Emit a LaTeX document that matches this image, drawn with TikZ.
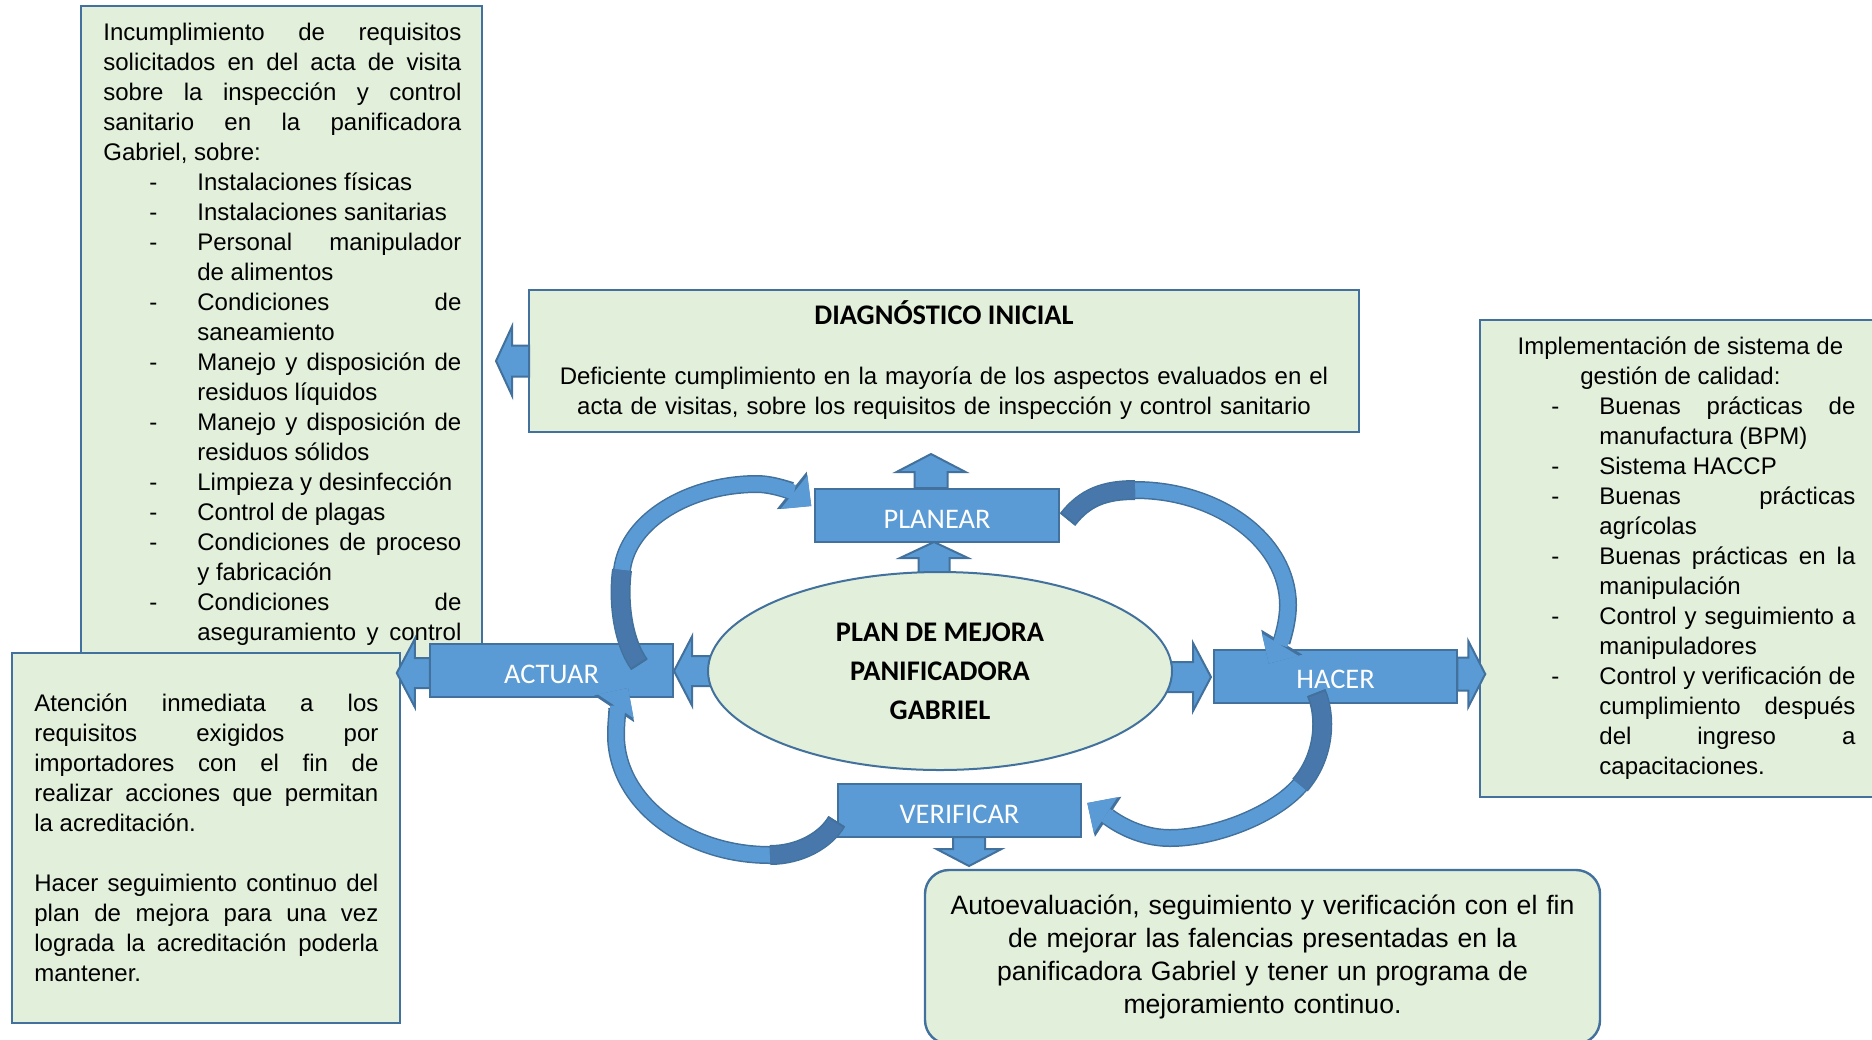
\documentclass[tikz,border=0pt]{standalone}
\usepackage{fontspec}
\setmainfont{Liberation Sans}
\newfontfamily\calibri{Carlito}
\usetikzlibrary{shapes.geometric,arrows.meta,calc}
\definecolor{boxgreen}{HTML}{E2EFDA}
\definecolor{boxblue}{HTML}{5B9BD5}
\definecolor{bordc}{HTML}{41719C}
\definecolor{darkblue}{HTML}{4878AB}
\hyphenpenalty=10000
\exhyphenpenalty=10000
\tolerance=10000
\newcommand{\dashitem}[1]{{\leftskip=47pt\noindent\llap{-\hspace{20pt}}#1\par}}
\begin{document}
\begin{tikzpicture}[x=0.5pt, y=-0.5pt,
    greenbox/.style={draw=bordc, fill=boxgreen, line width=1.2pt, inner sep=0pt, outer sep=0pt},
    bluebox/.style={draw=bordc, fill=boxblue, line width=1pt, inner sep=0pt, outer sep=0pt,
      minimum width=121.75pt, minimum height=26.5pt, text height=12.5pt, text depth=0pt,
      text=white, font=\calibri\fontsize{14.2}{17}\selectfont},
    bodytext/.style={inner sep=0pt, align=justify, font=\fontsize{12}{15}\selectfont},
    blockarrow/.style={draw=bordc, fill=boxblue, line width=1pt},
    curvearrow/.style={draw=boxblue, line width=7.5pt, -{Triangle[width=21.5pt,length=11pt,line width=0pt]},
      preaction={draw=bordc, line width=9pt, shorten <=-1pt, -{Triangle[width=24pt,length=12.5pt,line width=0pt]}}},
    curvedark/.style={draw=darkblue, line width=8.5pt, preaction={draw=bordc, line width=10pt, shorten <=-1pt}},
    pics/blockarr/.style args={#1/#2/#3/#4}{code={
      \draw[blockarrow] (0,-#1) -- (#3,-#1) -- (#3,-#2) -- ({#3+#4},0) -- (#3,#2) -- (#3,#1) -- (0,#1) -- cycle;}}]
  \useasboundingbox (0,0) rectangle (1872,1039);
  \fill[white] (0,0) rectangle (1872,1039);

  % text boxes
  \node[greenbox, anchor=north west, minimum width=200.5pt, minimum height=334.5pt] (incumpl) at (81,6) {};
  \node[bodytext, text width=179pt, anchor=base west] (incumpltext) at (103,40) {%
    Incumplimiento de requisitos\linebreak solicitados en del acta de visita\linebreak
    sobre la inspección y control\linebreak sanitario en la panificadora\linebreak Gabriel, sobre:\par
    \dashitem{Instalaciones físicas}
    \dashitem{Instalaciones sanitarias}
    \dashitem{Personal manipulador\linebreak de alimentos}
    \dashitem{Condiciones de\linebreak saneamiento}
    \dashitem{Manejo y disposición de\linebreak residuos líquidos}
    \dashitem{Manejo y disposición de\linebreak residuos sólidos}
    \dashitem{Limpieza y desinfección}
    \dashitem{Control de plagas}
    \dashitem{Condiciones de proceso\linebreak y fabricación}
    {\parfillskip=0pt\dashitem{Condiciones de\linebreak aseguramiento y control}}};

  \node[greenbox, anchor=north west, minimum width=194pt, minimum height=185pt] (atencion) at (12,653) {};
  \node[bodytext, text width=172pt, anchor=base west] (atenciontext) at (34,711) {%
    Atención inmediata a los\linebreak requisitos exigidos por\linebreak importadores con el fin de\linebreak
    realizar acciones que permitan\linebreak la acreditación.\par\vspace{15pt}
    Hacer seguimiento continuo del\linebreak plan de mejora para una vez\linebreak
    lograda la acreditación poderla\linebreak mantener.};

  \node[greenbox, anchor=north west, minimum width=415pt, minimum height=71pt] (diag) at (529,290) {};
  \node[inner sep=0pt, anchor=base, font=\calibri\bfseries\fontsize{14.2}{17}\selectfont] (diagtitle) at (944,324.5) {DIAGNÓSTICO INICIAL};
  \node[inner sep=0pt, anchor=base, align=center, text width=410pt, font=\fontsize{12}{15}\selectfont] (diagtext) at (944,384.5)
    {Deficiente cumplimiento en la mayoría de los aspectos evaluados en el\\acta de visitas, sobre los requisitos de inspección y control sanitario};

  \node[greenbox, anchor=north west, minimum width=215pt, minimum height=238.5pt] (implem) at (1480,320) {};
  \node[bodytext, text width=175pt, anchor=base west] (implemtext) at (1505,354) {%
    {\centering Implementación de sistema de\\gestión de calidad:\par}
    \dashitem{Buenas prácticas de\linebreak manufactura (BPM)}
    \dashitem{Sistema HACCP}
    \dashitem{Buenas prácticas\linebreak agrícolas}
    \dashitem{Buenas prácticas en la\linebreak manipulación}
    \dashitem{Control y seguimiento a\linebreak manipuladores}
    \dashitem{Control y verificación de\linebreak cumplimiento después\linebreak del ingreso a\linebreak capacitaciones.}};

  \node[greenbox, rounded corners=12pt, anchor=north west, minimum width=337.5pt, minimum height=87pt] (autoeval) at (925,870) {};
  \node[inner sep=0pt, anchor=base, align=center, text width=330pt, font=\fontsize{13.3}{16.5}\selectfont] (autoevaltext) at (1262.5,914)
    {Autoevaluación, seguimiento y verificación con el fin\\de mejorar las falencias presentadas en la\\
     panificadora Gabriel y tener un programa de\\mejoramiento continuo.};

  % cycle
  \coordinate (plancenter) at (940,671);
  \pic[rotate=90] at ($(plancenter)+(-6,-96)$) {blockarr=15.5/34/17/16};
  \pic[rotate=180] at ($(plancenter)+(-226,0)$) {blockarr=15/34.5/22/18};
  \pic at ($(plancenter)+(226,6)$) {blockarr=15/34/27/18};
  \node[ellipse, draw=bordc, fill=boxgreen, line width=1pt, inner sep=0pt, minimum width=232pt, minimum height=99pt,
    align=center, font=\calibri\bfseries\fontsize{14.2}{19.5}\selectfont] (plan) at (plancenter) {PLAN DE MEJORA\\PANIFICADORA\\GABRIEL};

  \node[bluebox] (planear) at (937,515.5) {PLANEAR};
  \node[bluebox] (actuar) at (551.5,670.5) {ACTUAR};
  \node[bluebox] (hacer) at (1335.5,676) {HACER};
  \node[bluebox] (verificar) at (959.5,810.5) {VERIFICAR};

  \pic[rotate=180] at (diag.west) {blockarr=15.5/34.5/17/16};
  \pic[rotate=90] at ($(planear.north)+(-6,-1)$) {blockarr=16.5/34.5/16/18};
  \pic[rotate=180] at ($(actuar.west)+(0,2.5)$) {blockarr=15/34/15/18};
  \pic at ($(hacer.east)+(0,-2)$) {blockarr=16.5/33/11/17};
  \pic[rotate=-90] at ($(verificar.south)+(9.5,0)$) {blockarr=16/32.5/12/17};

  % curved arrows
  \draw[curvearrow] ($(actuar.north east)+(-35,19)$) .. controls (622,640) and (618,600) .. (622,570)
    .. controls (628,520) and (690,484) .. (757,484) .. controls (775,484) and (795,493) .. ($(planear.west)+(-4,-9.5)$);
  \draw[curvedark] ($(actuar.north east)+(-35,19)$) .. controls (622,640) and (618,600) .. (622,570);

  \draw[curvearrow] ($(planear.east)+(10,2.5)$) .. controls (1085,497) and (1105,490) .. (1135,490)
    .. controls (1219,490) and (1288,542) .. (1288,605) .. controls (1288,625) and (1280,645) .. ($(hacer.north west)+(55,14)$);
  \draw[curvedark] ($(planear.east)+(10,2.5)$) .. controls (1085,497) and (1105,490) .. (1135,490);

  \draw[curvearrow] ($(hacer.south)+(-18.5,-8)$) .. controls (1326,715) and (1326,755) .. (1300,785)
    .. controls (1274,815) and (1215,838) .. (1170,838) .. controls (1135,838) and (1110,818) .. ($(verificar.east)+(6,-7.5)$);
  \draw[curvedark] ($(hacer.south)+(-18.5,-8)$) .. controls (1326,715) and (1326,755) .. (1300,785);

  \draw[curvearrow] ($(verificar.west)+(-2,12.5)$) .. controls (826,840) and (800,855) .. (770,855)
    .. controls (685,855) and (616,801) .. (616,735) .. controls (616,715) and (620,700) .. ($(actuar.south)+(76.5,-9)$);
  \draw[curvedark] ($(verificar.west)+(-2,12.5)$) .. controls (826,840) and (800,855) .. (770,855);
\end{tikzpicture}
\end{document}
